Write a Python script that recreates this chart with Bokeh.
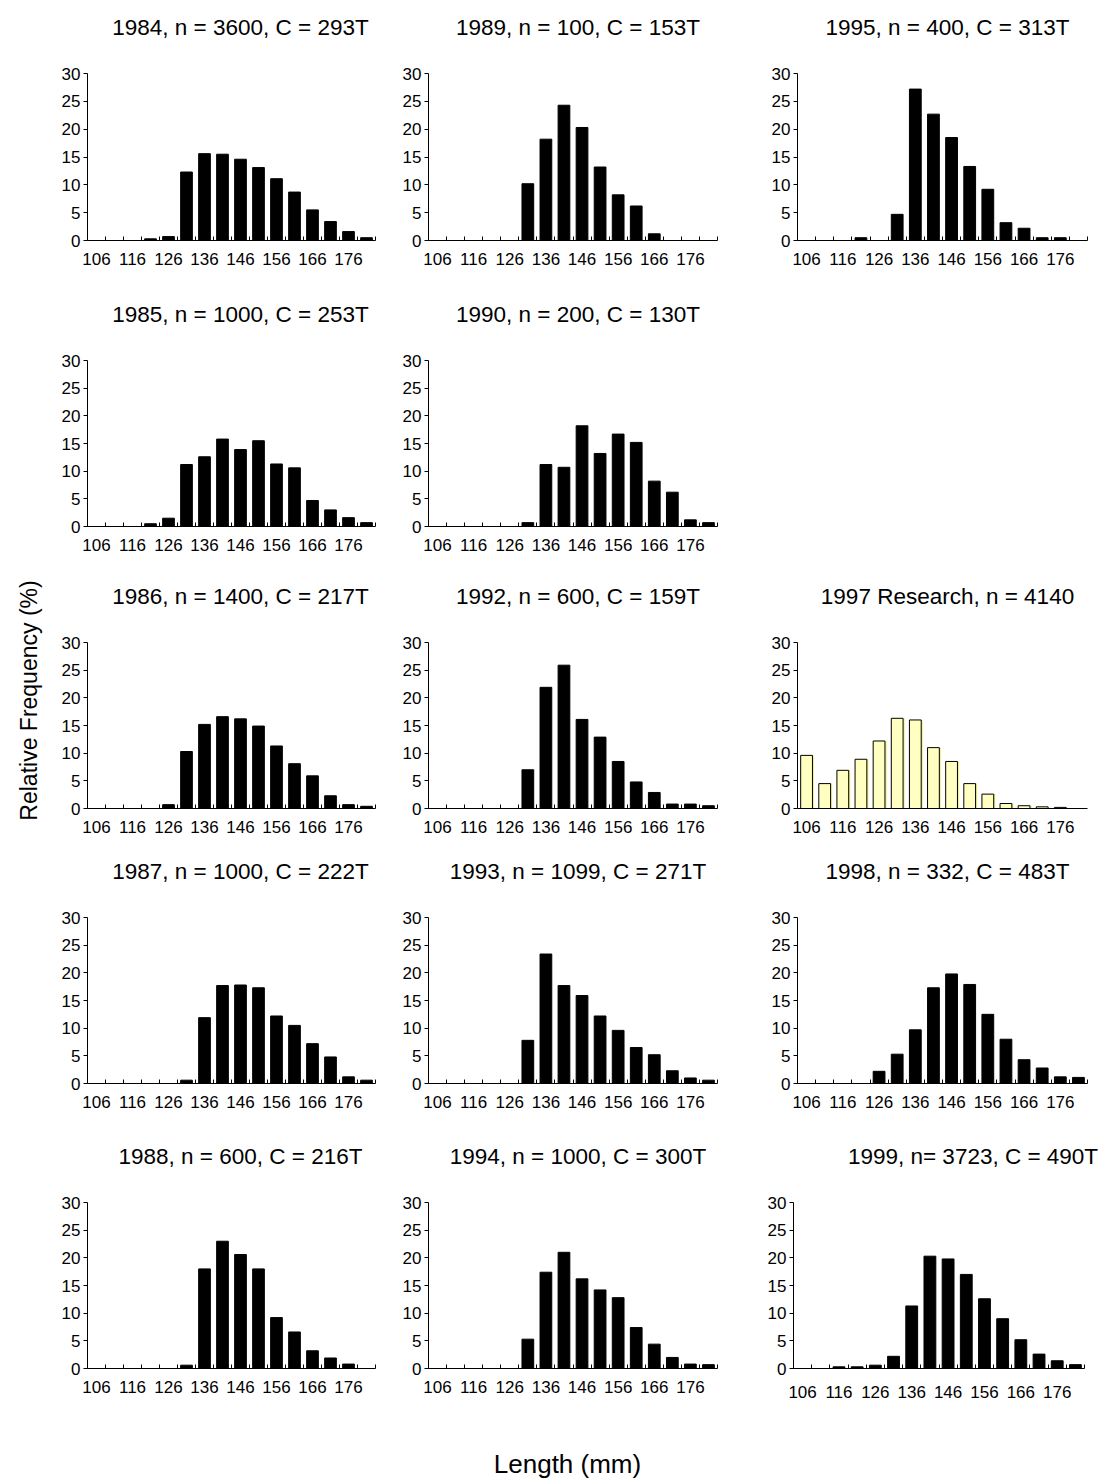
import math
from bokeh.plotting import figure
from bokeh.layouts import row, column, Spacer
from bokeh.models import FixedTicker, Label, ColumnDataSource
from bokeh.transform import dodge
from bokeh.embed import file_html
from bokeh.resources import INLINE

# ---------------- data ----------------
lengths = [106, 111, 116, 121, 126, 131, 136, 141, 146, 151, 156, 161, 166, 171, 176, 181]
tick_labels = [106, 116, 126, 136, 146, 156, 166, 176]
y_ticks = [0, 5, 10, 15, 20, 25, 30]

f1984 = [0, 0, 0, 0.3, 0.7, 12.3, 15.6, 15.5, 14.6, 13.1, 11.1, 8.7, 5.5, 3.4, 1.6, 0.5]
f1985 = [0, 0, 0, 0.5, 1.5, 11.2, 12.6, 15.8, 13.9, 15.5, 11.3, 10.6, 4.7, 3.0, 1.6, 0.7]
f1986 = [0, 0, 0, 0, 0.7, 10.3, 15.2, 16.6, 16.2, 14.9, 11.3, 8.1, 5.9, 2.3, 0.7, 0.4]
f1987 = [0, 0, 0, 0, 0, 0.6, 11.9, 17.7, 17.8, 17.3, 12.2, 10.5, 7.2, 4.8, 1.2, 0.6]
f1988 = [0, 0, 0, 0, 0, 0.6, 18.0, 23.0, 20.6, 18.0, 9.2, 6.6, 3.2, 1.9, 0.8, 0]
f1989 = [0, 0, 0, 0, 0, 10.2, 18.2, 24.3, 20.3, 13.2, 8.2, 6.2, 1.2, 0, 0, 0]
f1990 = [0, 0, 0, 0, 0, 0.7, 11.2, 10.7, 18.2, 13.2, 16.7, 15.2, 8.2, 6.2, 1.2, 0.7]
f1992 = [0, 0, 0, 0, 0, 7.0, 21.9, 25.9, 16.1, 12.9, 8.5, 4.8, 2.9, 0.8, 0.8, 0.5]
f1993 = [0, 0, 0, 0, 0, 7.8, 23.4, 17.7, 15.9, 12.2, 9.6, 6.5, 5.2, 2.3, 1.0, 0.6]
f1994 = [0, 0, 0, 0, 0, 5.3, 17.4, 21.0, 16.2, 14.2, 12.8, 7.4, 4.4, 2.0, 0.8, 0.7]
f1995 = [0, 0, 0, 0.5, 0, 4.7, 27.2, 22.7, 18.5, 13.3, 9.2, 3.2, 2.2, 0.5, 0.5, 0]
f1997 = [9.6, 4.5, 6.9, 8.9, 12.2, 16.3, 16.0, 11.0, 8.5, 4.5, 2.6, 0.9, 0.5, 0.3, 0.2, 0]
f1998 = [0, 0, 0, 0, 2.2, 5.3, 9.7, 17.3, 19.8, 17.9, 12.5, 8.0, 4.3, 2.8, 1.2, 1.1]
f1999 = [0, 0, 0.3, 0.3, 0.6, 2.2, 11.3, 20.3, 19.8, 17.0, 12.6, 9.0, 5.2, 2.6, 1.4, 0.7]

titles = {
    "1984": "1984, n = 3600, C = 293T",
    "1985": "1985, n = 1000, C = 253T",
    "1986": "1986, n = 1400, C = 217T",
    "1987": "1987, n = 1000, C = 222T",
    "1988": "1988, n = 600, C = 216T",
    "1989": "1989, n = 100, C = 153T",
    "1990": "1990, n = 200, C = 130T",
    "1992": "1992, n = 600, C = 159T",
    "1993": "1993, n = 1099, C = 271T",
    "1994": "1994, n = 1000, C = 300T",
    "1995": "1995, n = 400, C = 313T",
    "1997": "1997 Research, n = 4140",
    "1998": "1998, n = 332, C = 483T",
    "1999": "1999, n= 3723, C = 490T",
}
y_title = "Relative Frequency (%)"
x_title = "Length (mm)"

# panel grid: (key, values) per row; None = empty slot
grid_keys = [
    [("1984", f1984), ("1989", f1989), ("1995", f1995)],
    [("1985", f1985), ("1990", f1990), None],
    [("1986", f1986), ("1992", f1992), ("1997", f1997)],
    [("1987", f1987), ("1993", f1993), ("1998", f1998)],
    [("1988", f1988), ("1994", f1994), ("1999", f1999)],
]
research_keys = {"1997"}

# ---------------- style / layout ----------------
FONT = "Liberation Sans"
BIN = lengths[1] - lengths[0]
COLS = [  # (fig width, left border, right border)
    (345, 37, 20),
    (365, 33, 43),
    (340, 37, 13),
]
ROWS = [  # (total row height incl. title strip, top border, bottom border)
    (290, 73, 50),
    (282, 70, 46),
    (276, 70, 40),
    (280, 69, 45),
    (282, 74, 42),
]
PANEL_TOP = 12        # top border kept inside the panel figure itself
TITLE_ABOVE = 46      # title centre above the frame top
TITLE_DX = [9, 5, 5]
OVERRIDES = {"1999": dict(left=33, right=16, standoff=17, title_dx=34)}
GRID_W = sum(c[0] for c in COLS)


def panel(key, vals, r, c):
    w, bl, br = COLS[c]
    h, bt, bb = ROWS[r]
    o = OVERRIDES.get(key, {})
    bl = o.get("left", bl)
    br = o.get("right", br)
    research = key in research_keys
    p = figure(width=w, height=h - (bt - PANEL_TOP), min_border_left=bl, min_border_right=br,
               min_border_top=PANEL_TOP, min_border_bottom=bb,
               x_range=(lengths[0] - BIN / 2, lengths[-1] + BIN / 2), y_range=(0, 30),
               output_backend="svg", toolbar_location=None, tools="")
    p.outline_line_color = None
    p.xgrid.grid_line_color = None
    p.ygrid.grid_line_color = None
    src = ColumnDataSource(dict(x=lengths, top=vals))
    if research:
        p.vbar(x=dodge("x", 0.45), top="top", width=BIN * 0.65, source=src,
               fill_color="#F2F28A", line_color=None)
        p.vbar(x="x", top="top", width=BIN * 0.65, source=src,
               fill_color="#FFFFC2", line_color="#000000", line_width=1)
    else:
        p.vbar(x="x", top="top", width=BIN * 0.65, source=src,
               fill_color="#000000", line_color="#000000")

    minor = [l - BIN / 2 for l in lengths] + [lengths[-1] + BIN / 2]
    p.xaxis.ticker = FixedTicker(ticks=tick_labels, minor_ticks=([] if research else minor))
    p.xaxis.major_tick_in = 0
    p.xaxis.major_tick_out = 0
    p.xaxis.minor_tick_in = 4
    p.xaxis.minor_tick_out = 0
    p.xaxis.major_label_standoff = o.get("standoff", 12)
    p.yaxis.ticker = FixedTicker(ticks=y_ticks, minor_ticks=[])
    p.yaxis.major_tick_in = 0
    p.yaxis.major_tick_out = 4
    p.yaxis.minor_tick_in = 0
    p.yaxis.minor_tick_out = 0
    p.yaxis.major_label_standoff = 3
    for ax in (p.xaxis, p.yaxis):
        ax.axis_line_color = "#000000"
        ax.major_tick_line_color = "#000000"
        ax.minor_tick_line_color = "#000000"
        ax.major_label_text_font = FONT
        ax.major_label_text_font_size = "17px"
        ax.major_label_text_color = "#000000"
    return p


def title_strip(r):
    h, bt, bb = ROWS[r]
    sh = bt - PANEL_TOP
    s = figure(width=GRID_W, height=sh, x_axis_location=None, y_axis_location=None,
               min_border=0, output_backend="svg", toolbar_location=None, tools="")
    s.outline_line_color = None
    s.grid.grid_line_color = None
    x0 = 0
    for c, item in enumerate(grid_keys[r]):
        w, bl, br = COLS[c]
        if item is not None:
            key = item[0]
            o = OVERRIDES.get(key, {})
            l = o.get("left", bl)
            rr = o.get("right", br)
            cx = x0 + l + (w - l - rr) / 2 + o.get("title_dx", TITLE_DX[c])
            s.add_layout(Label(x=cx, y=TITLE_ABOVE - PANEL_TOP, x_units="screen", y_units="screen",
                               text=titles[key], text_align="center", text_baseline="middle",
                               text_font=FONT, text_font_size="22.5px", text_color="#000000"))
        x0 += w
    return s


rows = []
for r, items in enumerate(grid_keys):
    figs = []
    for c, item in enumerate(items):
        if item is None:
            figs.append(Spacer(width=COLS[c][0], height=ROWS[r][0] - (ROWS[r][1] - PANEL_TOP)))
        else:
            figs.append(panel(item[0], item[1], r, c))
    rows.append(title_strip(r))
    rows.append(row(*figs, spacing=0))

grid = column(*rows, spacing=0)

GRID_H = sum(r[0] for r in ROWS)

ylab = figure(width=50, height=GRID_H, x_axis_location=None, y_axis_location=None,
              min_border=0, output_backend="svg", toolbar_location=None, tools="")
ylab.outline_line_color = None
ylab.grid.grid_line_color = None
ylab.add_layout(Label(x=28, y=GRID_H - 700, x_units="screen", y_units="screen",
                      text=y_title, angle=math.pi / 2, text_align="center",
                      text_baseline="middle", text_font=FONT, text_font_size="23px",
                      text_color="#000000"))

TOTAL_W = 50 + GRID_W
XLAB_H = 68
xlab = figure(width=TOTAL_W, height=XLAB_H, x_axis_location=None, y_axis_location=None,
              min_border=0, output_backend="svg", toolbar_location=None, tools="")
xlab.outline_line_color = None
xlab.grid.grid_line_color = None
xlab.add_layout(Label(x=567, y=XLAB_H - 53, x_units="screen", y_units="screen",
                      text=x_title, text_align="center", text_baseline="middle",
                      text_font=FONT, text_font_size="26px", text_color="#000000"))

layout = column(row(ylab, grid, spacing=0), xlab, spacing=0)

open("out.html", "w").write(file_html(layout, INLINE))
